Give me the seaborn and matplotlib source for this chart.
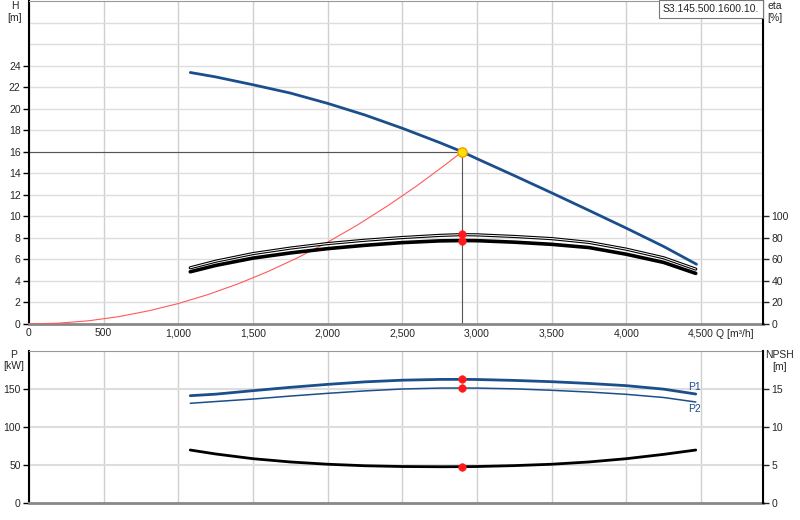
import matplotlib
matplotlib.use("Agg")
import matplotlib.pyplot as plt
import seaborn as sns
import numpy as np
import pandas as pd
from matplotlib.ticker import FuncFormatter

sns.set_style("white")
plt.rcParams['font.family'] = ['Liberation Sans', 'DejaVu Sans']

# ---- data ----
q_pump = [1080, 1250, 1500, 1750, 2000, 2250, 2500, 2750, 2900, 3000, 3250, 3500, 3750, 4000, 4250, 4470]
head = [23.36, 22.95, 22.22, 21.45, 20.49, 19.41, 18.18, 16.85, 16.0, 15.35, 13.78, 12.18, 10.55, 8.9, 7.2, 5.55]

q_eta = [1080, 1250, 1500, 1750, 2000, 2250, 2500, 2750, 2900, 3000, 3250, 3500, 3750, 4000, 4250, 4465]
eta_upper = [52.2, 58.3, 65.4, 70.5, 74.7, 77.8, 80.3, 82.3, 83.0, 82.8, 81.3, 79.3, 75.8, 69.5, 61.5, 51.0]
eta_lower = [48.5, 54.4, 61.2, 66.0, 70.0, 73.1, 75.6, 77.2, 77.5, 77.4, 76.0, 74.0, 71.0, 64.8, 57.2, 47.0]

q_sys = [0, 200, 400, 600, 800, 1000, 1200, 1400, 1600, 1800, 2000, 2200, 2400, 2600, 2800, 2900]
h_sys = [0.0, 0.08, 0.3, 0.68, 1.22, 1.9, 2.74, 3.73, 4.87, 6.16, 7.6, 9.2, 10.96, 12.86, 14.92, 16.0]

q_bot = [1080, 1250, 1500, 1750, 2000, 2250, 2500, 2750, 2900, 3000, 3250, 3500, 3750, 4000, 4250, 4465]
p1 = [141.2, 143.2, 147.8, 152.2, 156.1, 159.4, 161.6, 162.6, 162.7, 162.5, 161.3, 159.6, 157.3, 154.4, 149.8, 143.4]
p2 = [131.2, 133.5, 136.8, 140.7, 144.3, 147.5, 150.0, 151.2, 151.3, 151.2, 150.2, 148.3, 146.0, 143.0, 138.8, 132.9]
npsh = [6.97, 6.45, 5.83, 5.4, 5.1, 4.9, 4.8, 4.77, 4.78, 4.8, 4.92, 5.1, 5.4, 5.83, 6.4, 6.97]

Q_op = 2900
H_op = 16.0
eta_op = [83.3, 77.1]
p_op = [162.7, 151.3]
npsh_op = 4.78

x_ticks = [0, 500, 1000, 1500, 2000, 2500, 3000, 3500, 4000, 4500]
h_ticks = [0, 2, 4, 6, 8, 10, 12, 14, 16, 18, 20, 22, 24]
h_grid = [2, 4, 6, 8, 10, 12, 14, 16, 18, 20, 22, 24, 26, 28]
eta_ticks = [0, 20, 40, 60, 80, 100]
p_ticks = [0, 50, 100, 150]
npsh_ticks = [0, 5, 10, 15]
model_name = "S3.145.500.1600.10."

# ---- styles ----
BLUE = "#1b4f8c"
FS = 7.5

fig = plt.figure(figsize=(8, 5.2), dpi=100)
ax1 = fig.add_axes([29/800, 1-324/520, (763-29)/800, 323/520])
ax2 = fig.add_axes([29/800, 1-503/520, (763-29)/800, (503-351)/520])

XMAX = (763-29)/0.14933

for ax in (ax1, ax2):
    ax.set_xlim(0, XMAX)
    ax.set_xticks(x_ticks)
    for xt in x_ticks:
        ax.axvline(xt, color="#cfcfcf", lw=1, zorder=0)
    ax.tick_params(axis='x', length=0, labelsize=FS, pad=3)
    ax.tick_params(axis='y', length=4, width=1, labelsize=FS, pad=2, color='black')
    for s in ax.spines.values():
        s.set_color("#888888")
    ax.spines['left'].set_color('black')
    ax.spines['left'].set_linewidth(1.5)
    ax.spines['bottom'].set_linewidth(2)
    ax.spines['bottom'].set_color("#888888")
    ax.spines['top'].set_color("#999999")

ax1.xaxis.set_major_formatter(FuncFormatter(lambda v, p: f"{int(v):,}"))
ax2.set_xticklabels([])

# top panel
ax1.set_ylim(0, 30)
ax1.set_yticks(h_ticks)
for ht in h_grid:
    ax1.axhline(ht, color="#dddddd", lw=1, zorder=0)

axr1 = ax1.twinx()
axr1.set_ylim(0, 300)
axr1.set_yticks(eta_ticks)
axr1.tick_params(axis='y', length=4, width=1, labelsize=FS, pad=2)
axr1.spines['right'].set_color('black')
axr1.spines['right'].set_linewidth(1.5)
for s in ['left', 'top', 'bottom']:
    axr1.spines[s].set_visible(False)

# operating lines
ax1.plot([0, Q_op], [H_op, H_op], color="#555555", lw=0.8, zorder=2)
ax1.plot([Q_op, Q_op], [0, H_op], color="#555555", lw=0.8, zorder=2)

sns.lineplot(x=q_sys, y=h_sys, ax=ax1, color="#ff5a5a", lw=0.8, sort=False, estimator=None, zorder=3)
sns.lineplot(x=q_pump, y=head, ax=ax1, color=BLUE, lw=2, sort=False, estimator=None, zorder=4)

sns.lineplot(x=q_eta, y=eta_upper, ax=axr1, color="black", lw=2.3, sort=False, estimator=None, zorder=3)
sns.lineplot(x=q_eta, y=eta_upper, ax=axr1, color="white", lw=0.7, sort=False, estimator=None, zorder=3)
sns.lineplot(x=q_eta, y=eta_lower, ax=axr1, color="black", lw=2.6, sort=False, estimator=None, zorder=3)
sns.scatterplot(x=[Q_op, Q_op], y=eta_op, ax=axr1, color="#ff1a1a", s=30, edgecolor="#ff1a1a", zorder=5)
sns.scatterplot(x=[Q_op], y=[H_op], ax=ax1, color="#ffe000", s=45, edgecolor="#f0a000", linewidth=1, zorder=6)

# bottom panel
ax2.set_ylim(0, 200)
ax2.set_yticks(p_ticks)
for pt in p_ticks[1:]:
    ax2.axhline(pt, color="#dddddd", lw=1.5, zorder=0)
axr2 = ax2.twinx()
axr2.set_ylim(0, 20)
axr2.set_yticks(npsh_ticks)
axr2.tick_params(axis='y', length=4, width=1, labelsize=FS, pad=2)
axr2.spines['right'].set_color('black')
axr2.spines['right'].set_linewidth(1.5)
for s in ['left', 'top', 'bottom']:
    axr2.spines[s].set_visible(False)

sns.lineplot(x=q_bot, y=p1, ax=ax2, color=BLUE, lw=2, sort=False, estimator=None, zorder=3)
sns.lineplot(x=q_bot, y=p2, ax=ax2, color=BLUE, lw=1.1, sort=False, estimator=None, zorder=3)
sns.lineplot(x=q_bot, y=npsh, ax=axr2, color="black", lw=2, sort=False, estimator=None, zorder=3)
sns.scatterplot(x=[Q_op, Q_op], y=p_op, ax=ax2, color="#ff1a1a", s=30, edgecolor="#ff1a1a", zorder=5)
sns.scatterplot(x=[Q_op], y=[npsh_op], ax=axr2, color="#ff1a1a", s=30, edgecolor="#ff1a1a", zorder=5)

ax2.text(q_bot[-1] - 10, p1[-1] + 3, "P1", color=BLUE, fontsize=FS, ha="center", va="bottom")
ax2.text(q_bot[-1] - 10, p2[-1] - 2, "P2", color=BLUE, fontsize=FS, ha="center", va="top")

for a in (ax1, ax2, axr1, axr2):
    a.set_xlabel("")
    a.set_ylabel("")
    leg = a.get_legend()
    if leg:
        leg.remove()

# axis titles
def ft(x, y, s, ha="center"):
    fig.text(x/800, 1-y/520, s, fontsize=FS, ha=ha, va="center")

ft(15, 6, "H")
ft(15, 18, "[m]")
ft(767, 6, "eta", ha="left")
ft(767, 18, "[%]", ha="left")
ft(14, 355, "P")
ft(14, 366, "[kW]")
ft(780, 355, "NPSH")
ft(780, 367, "[m]")
ft(716, 334, "Q [m³/h]", ha="left")

fig.text(663/800, 1-9/520, model_name, fontsize=FS, ha="left", va="center",
         bbox=dict(boxstyle="square,pad=0.35", fc="white", ec="#777777", lw=0.8))

fig.savefig("out.png", dpi=100)
